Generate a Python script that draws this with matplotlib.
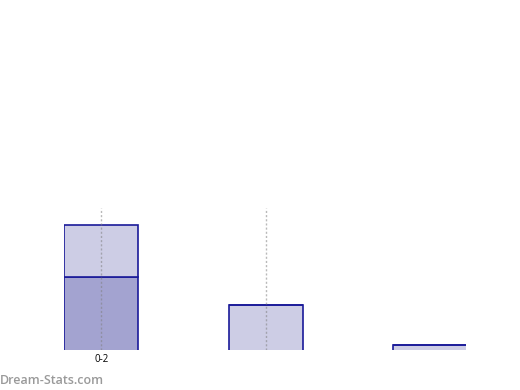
import numpy as np
import matplotlib.pyplot as plt

# data
labels = ["0-2", "", ""]
base = [52, 32, 4.3]      # lower (darker) part on first bar
upper = [36, 0, 0]        # stacked light part
base_colors = ["#a3a3d0", "#cdcde5", "#cdcde5"]

fig = plt.figure(figsize=(5.2, 3.9), dpi=100)
ax = fig.add_axes([64/520, 40/390, 402/520, 142/390])

x = np.arange(len(base))
ax.bar(x, base, width=0.45, color=base_colors, edgecolor="#1a1a99", linewidth=1.2, zorder=2)
ax.bar(x, upper, width=0.45, bottom=base, color="#cdcde5", edgecolor="#1a1a99", linewidth=1.2, zorder=2)

# dotted guide lines at first two categories
for xi in x[:2]:
    ax.axvline(xi, color="gray", linestyle=(0, (1.5, 1.5)), linewidth=1, alpha=0.55, zorder=3)

ax.set_xlim(-0.228, 2.218)
ax.set_ylim(0.6, 100)
ax.set_xticks(x[:1])
ax.set_xticklabels(labels[:1], fontsize=7, family="Open Sans")
ax.tick_params(axis="x", length=0, pad=3)
ax.set_yticks([])
for s in ax.spines.values():
    s.set_visible(False)

fig.text(0.0, 10/390, "Dream-Stats.com", fontsize=9, color="#9a9a9a",
         family="Open Sans", fontweight="semibold", ha="left", va="center")

fig.savefig("out.png", dpi=100)
